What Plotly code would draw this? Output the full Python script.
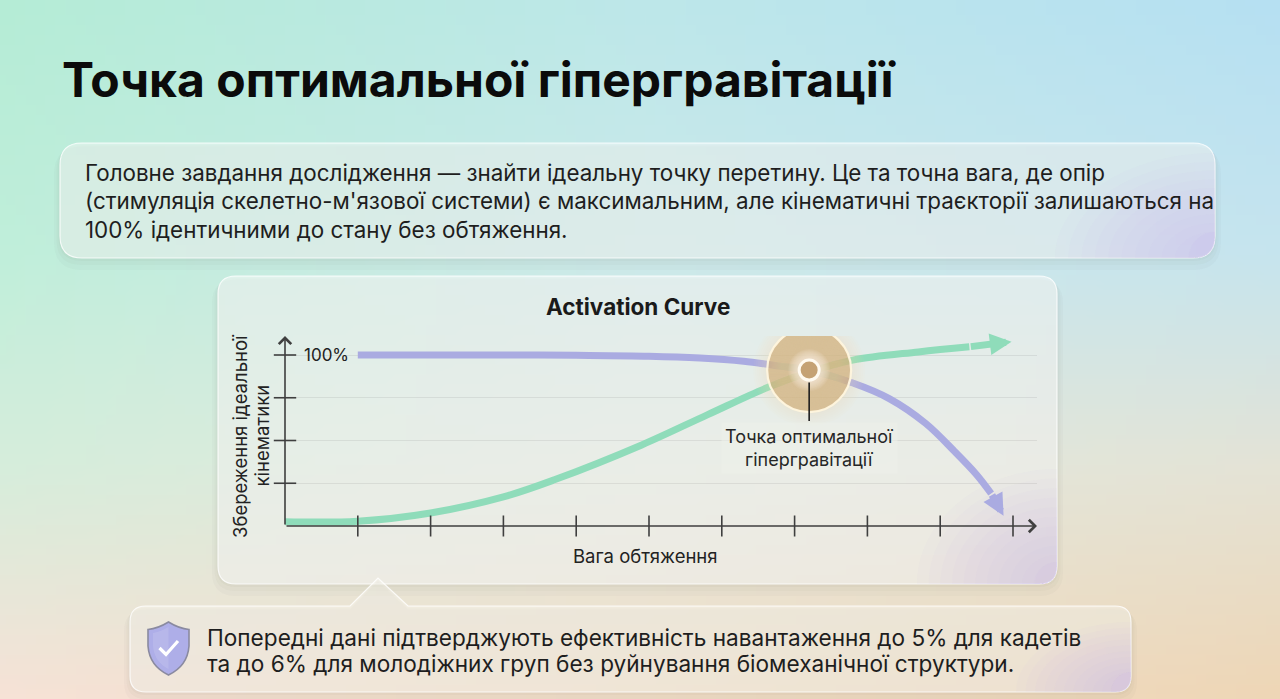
import base64
import struct
import zlib
import plotly.graph_objects as go

# ------------------------------------------------------------------ data
TITLE = "Точка оптимальної гіпергравітації"
INTRO_LINES = [
    "Головне завдання дослідження — знайти ідеальну точку перетину. Це та точна вага, де опір",
    "(стимуляція скелетно-м'язової системи) є максимальним, але кінематичні траєкторії залишаються на",
    "100% ідентичними до стану без обтяження.",
]
CHART_TITLE = "Activation Curve"
X_TITLE = "Вага обтяження"
Y_TITLE_LINES = ["Збереження ідеальної", "кінематики"]
X_TICKS = [1, 2, 3, 4, 5, 6, 7, 8, 9, 10]
Y_TICKS = [25, 50, 75, 100]
Y_TICK_TEXT = ["", "", "", "100%"]

# kinematics preservation (purple, falls off) and activation (green, rises)
PURPLE_X = [1.0, 2.0, 3.0, 4.0, 5.0, 5.7, 6.3, 6.8, 7.2, 7.8, 8.3, 8.8, 9.2, 9.5, 9.7, 9.87]
PURPLE_Y = [100, 100, 100, 99.8, 99.3, 98.2, 96.3, 93.5, 91.0, 83.6, 74.5, 60, 43.5, 30, 19, 6]
GREEN_X = [0.0, 1.0, 2.0, 3.0, 3.7, 4.9, 5.8, 6.6, 7.2, 7.8, 8.7, 9.4, 9.98]
GREEN_Y = [2.5, 2.8, 7.6, 17, 27, 47.4, 65, 80.5, 90, 97, 101.8, 104.8, 107.8]

OPT_X, OPT_Y = 7.2, 91.2
OPT_LABEL = "Точка оптимальної<br>гіпергравітації"

NOTE_LINES = [
    "Попередні дані підтверджують ефективність навантаження до 5% для кадетів",
    "та до 6% для молодіжних груп без руйнування біомеханічної структури.",
]

# ------------------------------------------------------------------ style / layout
W, H = 1280, 699
FONT = "Inter, 'Noto Sans', sans-serif"
PURPLE = "#aaabe1"
GREEN = "#8fdcba"
AXIS = "#3f3f3f"
TEXT = "#1e1e1e"

X0PX, SX = 285, 72.8      # pixel of x=0, pixels per x unit
Y0PX, SY = 526, 1.71      # pixel of y=0, pixels per y unit
XR_PX, YT_PX = 1037, 336  # axis arrow ends


def X(px):
    return px / W


def Y(py):
    return 1 - py / H


# background gradient image (pure python PNG)
BG_ROWS = [0.0, 0.36, 0.67, 1.0]
BG_COLS = [0.0, 0.5, 1.0]
BG_GRID = [
    [(181, 236, 214), (189, 231, 233), (182, 224, 242)],
    [(192, 238, 218), (203, 233, 234), (198, 228, 238)],
    [(214, 237, 219), (226, 233, 222), (228, 227, 214)],
    [(246, 226, 214), (242, 222, 200), (238, 214, 182)],
]


def lerp(a, b, t):
    return a + (b - a) * t


def bg_color(u, v):
    for j in range(len(BG_ROWS) - 1):
        if v <= BG_ROWS[j + 1]:
            break
    tv = (v - BG_ROWS[j]) / (BG_ROWS[j + 1] - BG_ROWS[j])
    for i in range(len(BG_COLS) - 1):
        if u <= BG_COLS[i + 1]:
            break
    tu = (u - BG_COLS[i]) / (BG_COLS[i + 1] - BG_COLS[i])
    out = []
    for k in range(3):
        top = lerp(BG_GRID[j][i][k], BG_GRID[j][i + 1][k], tu)
        bot = lerp(BG_GRID[j + 1][i][k], BG_GRID[j + 1][i + 1][k], tu)
        out.append(int(round(lerp(top, bot, tv))))
    return out


def png_uri(w, h):
    raw = bytearray()
    for y in range(h):
        raw.append(0)
        for x in range(w):
            raw += bytes(bg_color(x / (w - 1), y / (h - 1)))

    def chunk(t, d):
        c = struct.pack(">I", len(d)) + t + d
        return c + struct.pack(">I", zlib.crc32(t + d) & 0xFFFFFFFF)

    png = (b"\x89PNG\r\n\x1a\n"
           + chunk(b"IHDR", struct.pack(">IIBBBBB", w, h, 8, 2, 0, 0, 0))
           + chunk(b"IDAT", zlib.compress(bytes(raw), 9))
           + chunk(b"IEND", b""))
    return "data:image/png;base64," + base64.b64encode(png).decode()


def rr_path(x0, y0, x1, y1, r, pointer=None):
    p = f"M{X(x0 + r)},{Y(y0)} "
    if pointer:
        a, b, ax, ay = pointer
        p += f"L{X(a)},{Y(y0)} L{X(ax)},{Y(ay)} L{X(b)},{Y(y0)} "
    p += (f"L{X(x1 - r)},{Y(y0)} Q{X(x1)},{Y(y0)} {X(x1)},{Y(y0 + r)} "
          f"L{X(x1)},{Y(y1 - r)} Q{X(x1)},{Y(y1)} {X(x1 - r)},{Y(y1)} "
          f"L{X(x0 + r)},{Y(y1)} Q{X(x0)},{Y(y1)} {X(x0)},{Y(y1 - r)} "
          f"L{X(x0)},{Y(y0 + r)} Q{X(x0)},{Y(y0)} {X(x0 + r)},{Y(y0)} Z")
    return p


def glow_path(x1, y1, r, w, h):
    return (f"M{X(x1)},{Y(y1 - h)} L{X(x1)},{Y(y1 - r)} Q{X(x1)},{Y(y1)} {X(x1 - r)},{Y(y1)} "
            f"L{X(x1 - w)},{Y(y1)} C{X(x1 - w)},{Y(y1 - h * 0.55)} {X(x1 - w * 0.55)},{Y(y1 - h)} "
            f"{X(x1)},{Y(y1 - h)} Z")


shapes = []


def panel(x0, y0, x1, y1, r, fill, wmax, hmax, pointer=None):
    for d, a in [(12, 0.03), (7, 0.035), (3, 0.045)]:
        shapes.append(dict(type="path", xref="paper", yref="paper", layer="below",
                           path=rr_path(x0 - d * 0.5, y0 + d * 0.3, x1 + d * 0.5, y1 + d, r + d * 0.5,
                                        None if pointer is None else
                                        (pointer[0], pointer[1], pointer[2], pointer[3] + d * 0.3)),
                           fillcolor=f"rgba(110,110,90,{a})", line=dict(width=0)))
    shapes.append(dict(type="path", xref="paper", yref="paper", layer="below",
                       path=rr_path(x0, y0, x1, y1, r, pointer), fillcolor=fill,
                       line=dict(color="rgba(255,255,255,0.8)", width=1.2)))
    n = 12
    for k in range(n):
        t = 1 - k / n
        w = max(r + 4, wmax * t)
        h = max(r + 4, hmax * t)
        shapes.append(dict(type="path", xref="paper", yref="paper", layer="below",
                           path=glow_path(x1, y1, r, w, h),
                           fillcolor="rgba(194,180,242,0.055)", line=dict(width=0)))


panel(60, 143, 1215, 258, 22, "rgba(255,255,255,0.45)", 160, 105)
panel(218, 276, 1057, 584, 18, "rgba(255,255,255,0.5)", 140, 115)
panel(130, 606, 1131, 692, 16, "rgba(255,252,246,0.45)", 115, 70, pointer=(350, 408, 378, 578))

# shield icon
shapes.append(dict(type="path", xref="paper", yref="paper", layer="below",
                   path=(f"M{X(168.5)},{Y(622)} Q{X(158)},{Y(628.5)} {X(148)},{Y(629.5)} "
                         f"L{X(148)},{Y(646)} Q{X(149.5)},{Y(666)} {X(168.5)},{Y(675)} "
                         f"Q{X(187.5)},{Y(666)} {X(189)},{Y(646)} L{X(189)},{Y(629.5)} "
                         f"Q{X(179)},{Y(628.5)} {X(168.5)},{Y(622)} Z"),
                   fillcolor="#aeaee8", line=dict(color="#8a8aa0", width=1.6)))
shapes.append(dict(type="path", xref="paper", yref="paper", layer="below",
                   path=(f"M{X(168.5)},{Y(627)} Q{X(160)},{Y(632)} {X(153)},{Y(633)} "
                         f"L{X(153)},{Y(646)} Q{X(154.5)},{Y(662)} {X(168.5)},{Y(669)} Z"),
                   fillcolor="rgba(255,255,255,0.12)", line=dict(width=0)))
shapes.append(dict(type="path", xref="paper", yref="paper", layer="below",
                   path=f"M{X(159.5)},{Y(648)} L{X(166)},{Y(654.5)} L{X(178)},{Y(641)}",
                   line=dict(color="white", width=3.2)))


# glow at the optimal point (anchored to data, sized in pixels)
def ring(r, fill, line=None):
    shapes.append(dict(type="circle", xref="x", yref="y", xsizemode="pixel", ysizemode="pixel",
                       xanchor=OPT_X, yanchor=OPT_Y, x0=-r, x1=r, y0=-r, y1=r,
                       fillcolor=fill, layer="above",
                       line=dict(width=0) if line is None else dict(color=line[0], width=line[1])))


for r in range(56, 43, -2):
    ring(r, "rgba(255,232,184,0.04)")
ring(42, "rgba(208,174,122,0.7)", ("rgba(255,246,222,0.95)", 2.2))
for r in range(39, 22, -1):
    ring(r, "rgba(226,200,158,0.06)")
for r in range(21, 10, -1):
    ring(r, "rgba(255,249,236,0.09)")
ring(10, "#c5a274", ("#fffaf0", 3))
shapes.append(dict(type="line", xref="x", yref="y", xsizemode="pixel", ysizemode="pixel",
                   xanchor=OPT_X, yanchor=OPT_Y, x0=0, x1=0, y0=-12.5, y1=-51,
                   line=dict(color="#1e1e1e", width=1.6), layer="above"))

# ------------------------------------------------------------------ figure
fig = go.Figure()

fig.add_trace(go.Scatter(x=PURPLE_X[:-1], y=PURPLE_Y[:-1], mode="lines",
                         line=dict(color=PURPLE, width=7, shape="spline", smoothing=1.0),
                         cliponaxis=False, hoverinfo="skip", showlegend=False))
fig.add_trace(go.Scatter(x=GREEN_X[:-1], y=GREEN_Y[:-1], mode="lines",
                         line=dict(color=GREEN, width=7, shape="spline", smoothing=1.0),
                         cliponaxis=False, hoverinfo="skip", showlegend=False))
# tick marks crossing the axes
fig.add_trace(go.Scatter(x=X_TICKS, y=[0] * len(X_TICKS), mode="markers",
                         marker=dict(symbol="line-ns", size=15, line=dict(color=AXIS, width=1.6)),
                         cliponaxis=False, hoverinfo="skip", showlegend=False))
fig.add_trace(go.Scatter(x=[0] * len(Y_TICKS), y=Y_TICKS, mode="markers",
                         marker=dict(symbol="line-ew", size=16, line=dict(color=AXIS, width=1.6)),
                         cliponaxis=False, hoverinfo="skip", showlegend=False))

x_max = (XR_PX - X0PX) / SX
y_max = (Y0PX - YT_PX) / SY

annotations = [
    # axis lines with arrow heads
    dict(x=x_max, y=0, ax=0, ay=0, xref="x", yref="y", axref="x", ayref="y", text="",
         showarrow=True, arrowhead=4, arrowsize=1.5, arrowwidth=1.6, arrowcolor=AXIS),
    dict(x=0, y=y_max, ax=0, ay=0, xref="x", yref="y", axref="x", ayref="y", text="",
         showarrow=True, arrowhead=4, arrowsize=1.5, arrowwidth=1.6, arrowcolor=AXIS),
    # curve arrow heads (last segment of each series)
    dict(x=PURPLE_X[-1], y=PURPLE_Y[-1], ax=PURPLE_X[-2], ay=PURPLE_Y[-2], xref="x", yref="y",
         axref="x", ayref="y", text="", showarrow=True, arrowhead=2, arrowsize=0.62,
         arrowwidth=7, arrowcolor=PURPLE),
    dict(x=GREEN_X[-1], y=GREEN_Y[-1], ax=GREEN_X[-2], ay=GREEN_Y[-2], xref="x", yref="y",
         axref="x", ayref="y", text="", showarrow=True, arrowhead=2, arrowsize=0.62,
         arrowwidth=7, arrowcolor=GREEN),
    # label of the optimal point
    dict(x=OPT_X, y=OPT_Y, xref="x", yref="y", yshift=-78, text=OPT_LABEL, showarrow=False,
         xanchor="center", yanchor="middle",
         font=dict(family=FONT, size=18, color="#262626"), bgcolor="rgba(236,240,234,0.55)",
         borderpad=3),
    # chart texts
    dict(x=X(638), y=Y(306), xref="paper", yref="paper", text=CHART_TITLE, showarrow=False,
         xanchor="center", yanchor="middle",
         font=dict(family=FONT, size=22.5, color="#1a1a1a", weight=700)),
    dict(x=X(645), y=Y(556), xref="paper", yref="paper", text=X_TITLE, showarrow=False,
         xanchor="center", yanchor="middle",
         font=dict(family=FONT, size=18.5, color="#222")),
]
for line, cx in zip(Y_TITLE_LINES, [240, 261.5]):
    annotations.append(dict(x=X(cx), y=Y(436), xref="paper", yref="paper", text=line,
                            showarrow=False, textangle=-90, xanchor="center", yanchor="middle",
                            font=dict(family=FONT, size=18.5, color="#222")))
for i, line in enumerate(INTRO_LINES):
    annotations.append(dict(x=X(83), y=Y(172 + i * 28.5), xref="paper", yref="paper", text=line,
                            showarrow=False, xanchor="left", yanchor="middle",
                            font=dict(family=FONT, size=22.4, color=TEXT)))
for i, line in enumerate(NOTE_LINES):
    annotations.append(dict(x=X(205), y=Y(637 + i * 26.5), xref="paper", yref="paper", text=line,
                            showarrow=False, xanchor="left", yanchor="middle",
                            font=dict(family=FONT, size=22.6, color=TEXT)))

fig.update_layout(
    width=W, height=H, margin=dict(l=0, r=0, t=0, b=0),
    paper_bgcolor="#d6eae2", plot_bgcolor="rgba(0,0,0,0)",
    title=dict(text=TITLE, x=X(62), xanchor="left", xref="paper", y=Y(80), yanchor="middle",
               yref="paper", font=dict(family=FONT, size=48, color="#0b0b0b", weight=700)),
    xaxis=dict(domain=[X(X0PX), X(XR_PX)], range=[0, x_max], showgrid=False, zeroline=False,
               showline=False, showticklabels=False, ticks="", fixedrange=True),
    yaxis=dict(domain=[Y(Y0PX), Y(YT_PX)], range=[0, y_max], tickvals=Y_TICKS, ticktext=Y_TICK_TEXT,
               showgrid=True, gridcolor="rgba(120,120,120,0.14)", gridwidth=1, zeroline=False,
               showline=False, ticks="", ticklabelposition="inside", ticklabelstandoff=16,
               tickfont=dict(family=FONT, size=17, color="#222"), fixedrange=True),
    images=[dict(source=png_uri(128, 70), xref="paper", yref="paper", x=0, y=1, sizex=1, sizey=1,
                 xanchor="left", yanchor="top", sizing="stretch", layer="below")],
    shapes=shapes,
    annotations=annotations,
    showlegend=False,
    hovermode=False,
)

fig.write_html("out.html", config={"displayModeBar": False, "staticPlot": True},
               post_script="document.body.style.margin='0';document.body.style.overflow='hidden';")
